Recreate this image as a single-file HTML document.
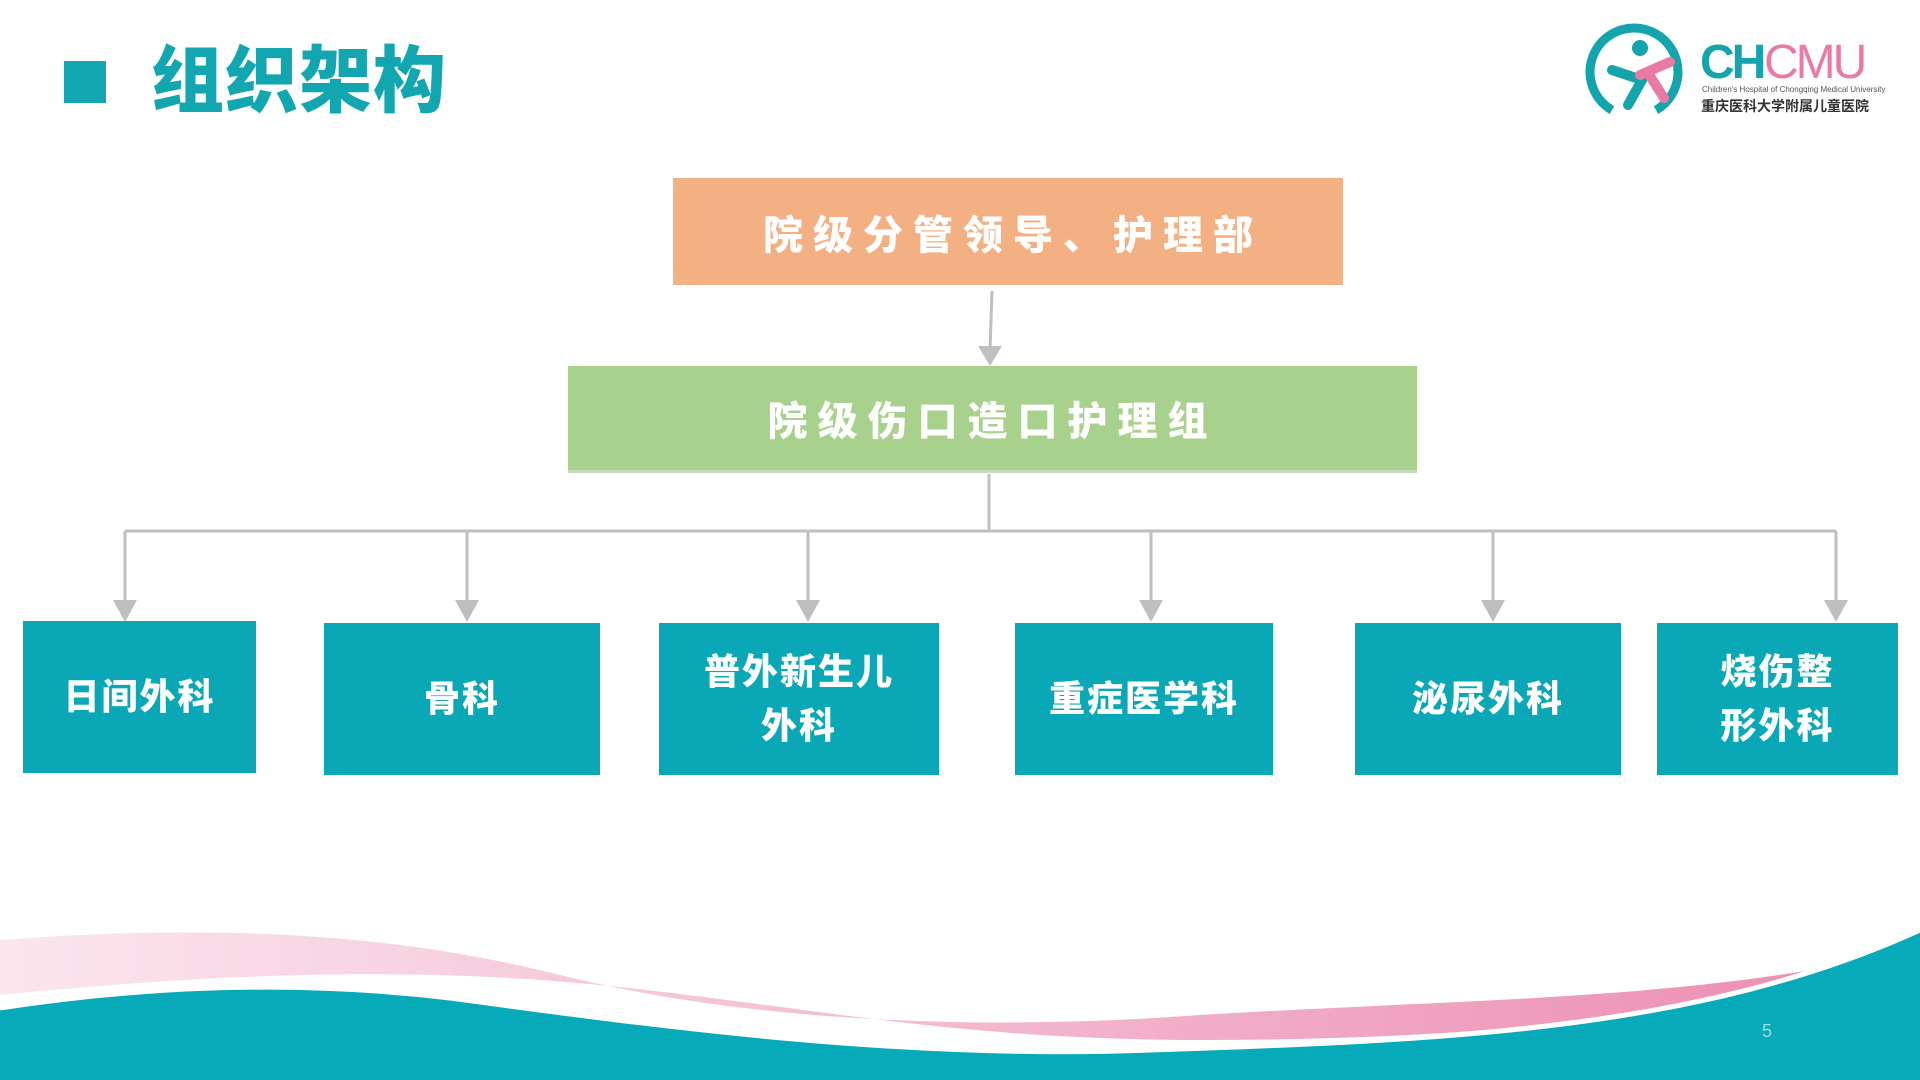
<!DOCTYPE html>
<html><head><meta charset="utf-8"><style>
*{margin:0;padding:0;box-sizing:border-box}
body{width:1920px;height:1080px;position:relative;overflow:hidden;background:#fff;font-family:"Liberation Sans","Noto Sans CJK SC",sans-serif}
.b{position:absolute;display:flex;align-items:center;justify-content:center;color:#fff;font-weight:900;text-align:center}
.t{background:#0aa8b6;font-size:36px;line-height:54px;letter-spacing:2px}
</style></head><body>
<div style="position:absolute;left:64px;top:61px;width:42px;height:42px;background:#12a6b0"></div>
<div style="position:absolute;left:151px;top:36px;font-size:73px;font-weight:900;color:#12a6b0;line-height:92px;letter-spacing:1px">组织架构</div>

<svg style="position:absolute;left:0;top:0" width="1920" height="1080">
<g stroke="#bfbfbf" stroke-width="3" fill="none">
<line x1="992" y1="291" x2="990" y2="350"/>
<line x1="989" y1="474" x2="989" y2="531"/>
<line x1="125" y1="531" x2="1836" y2="531"/>
<line x1="125" y1="531" x2="125" y2="606"/>
<line x1="467" y1="531" x2="467" y2="606"/>
<line x1="808" y1="531" x2="808" y2="606"/>
<line x1="1151" y1="531" x2="1151" y2="606"/>
<line x1="1493" y1="531" x2="1493" y2="606"/>
<line x1="1836" y1="531" x2="1836" y2="606"/>
</g>
<g fill="#bfbfbf">
<polygon points="978,346 1002,346 990,366"/>
<polygon points="113,600 137,600 125,622"/>
<polygon points="455,600 479,600 467,622"/>
<polygon points="796,600 820,600 808,622"/>
<polygon points="1139,600 1163,600 1151,622"/>
<polygon points="1481,600 1505,600 1493,622"/>
<polygon points="1824,600 1848,600 1836,622"/>
</g>
<defs><linearGradient id="pk" x1="0" x2="1"><stop offset="0" stop-color="#fbe6ee"/><stop offset="1" stop-color="#ec8fb3"/></linearGradient></defs>
<path d="M0,940 C200,925 380,930 560,975 C760,1025 1000,1030 1200,1015 C1450,1000 1650,1000 1840,965 C1700,1020 1450,1040 1200,1040 C950,1040 800,1005 600,985 C400,965 200,975 0,995 Z" fill="url(#pk)"/>
<path d="M0,1008 C150,985 300,980 450,998 C650,1025 900,1060 1150,1050 C1450,1040 1700,1030 1920,930 L1920,1080 L0,1080 Z" fill="#07aab9"/>
<path d="M0,1008 C150,985 300,980 450,998 C650,1025 900,1060 1150,1050 C1450,1040 1700,1030 1920,930" fill="none" stroke="#fff" stroke-width="5"/>
<text x="1762" y="1037" font-size="18" fill="#9fdbe0" font-family="Liberation Sans">5</text>
<circle cx="1634" cy="72" r="44" fill="none" stroke="#13a4ad" stroke-width="9" stroke-dasharray="230 50" transform="rotate(120 1634 72)"/>
<circle cx="1640" cy="48" r="8" fill="#13a4ad"/>
<line x1="1612" y1="70" x2="1642" y2="80" stroke="#13a4ad" stroke-width="10" stroke-linecap="round"/>
<line x1="1642" y1="80" x2="1628" y2="105" stroke="#13a4ad" stroke-width="10" stroke-linecap="round"/>
<line x1="1640" y1="75" x2="1670" y2="62" stroke="#ea7aa5" stroke-width="10" stroke-linecap="round"/>
<line x1="1650" y1="76" x2="1664" y2="98" stroke="#ea7aa5" stroke-width="10" stroke-linecap="round"/>
<text x="1700" y="78" font-size="48" font-weight="bold" fill="#13a4ad" font-family="Liberation Sans" letter-spacing="-3">CH</text>
<text x="1764" y="78" font-size="48" fill="#ea7aa5" font-family="Liberation Sans" letter-spacing="-3">CMU</text>
<text x="1702" y="92" font-size="8" fill="#555" font-family="Liberation Sans">Children's Hospital of Chongqing Medical University</text>
<text x="1701" y="111" font-size="14" font-weight="bold" fill="#333" font-family="Noto Sans CJK SC,sans-serif">重庆医科大学附属儿童医院</text>
</svg>

<div class="b" style="left:673px;top:178px;width:670px;height:107px;background:#f3b083;font-size:40px;letter-spacing:10px;padding-left:10px">院级分管领导、护理部</div>
<div class="b" style="left:568px;top:366px;width:849px;height:107px;background:#a9d18e;font-size:40px;letter-spacing:10px;padding-left:0;border-bottom:3px solid #c9d9c0">院级伤口造口护理组</div>

<div class="b t" style="left:23px;top:621px;width:233px;height:152px">日间外科</div>
<div class="b t" style="left:324px;top:623px;width:276px;height:152px">骨科</div>
<div class="b t" style="left:659px;top:623px;width:280px;height:152px">普外新生儿<br>外科</div>
<div class="b t" style="left:1015px;top:623px;width:258px;height:152px">重症医学科</div>
<div class="b t" style="left:1355px;top:623px;width:266px;height:152px">泌尿外科</div>
<div class="b t" style="left:1657px;top:623px;width:241px;height:152px">烧伤整<br>形外科</div>
</body></html>
